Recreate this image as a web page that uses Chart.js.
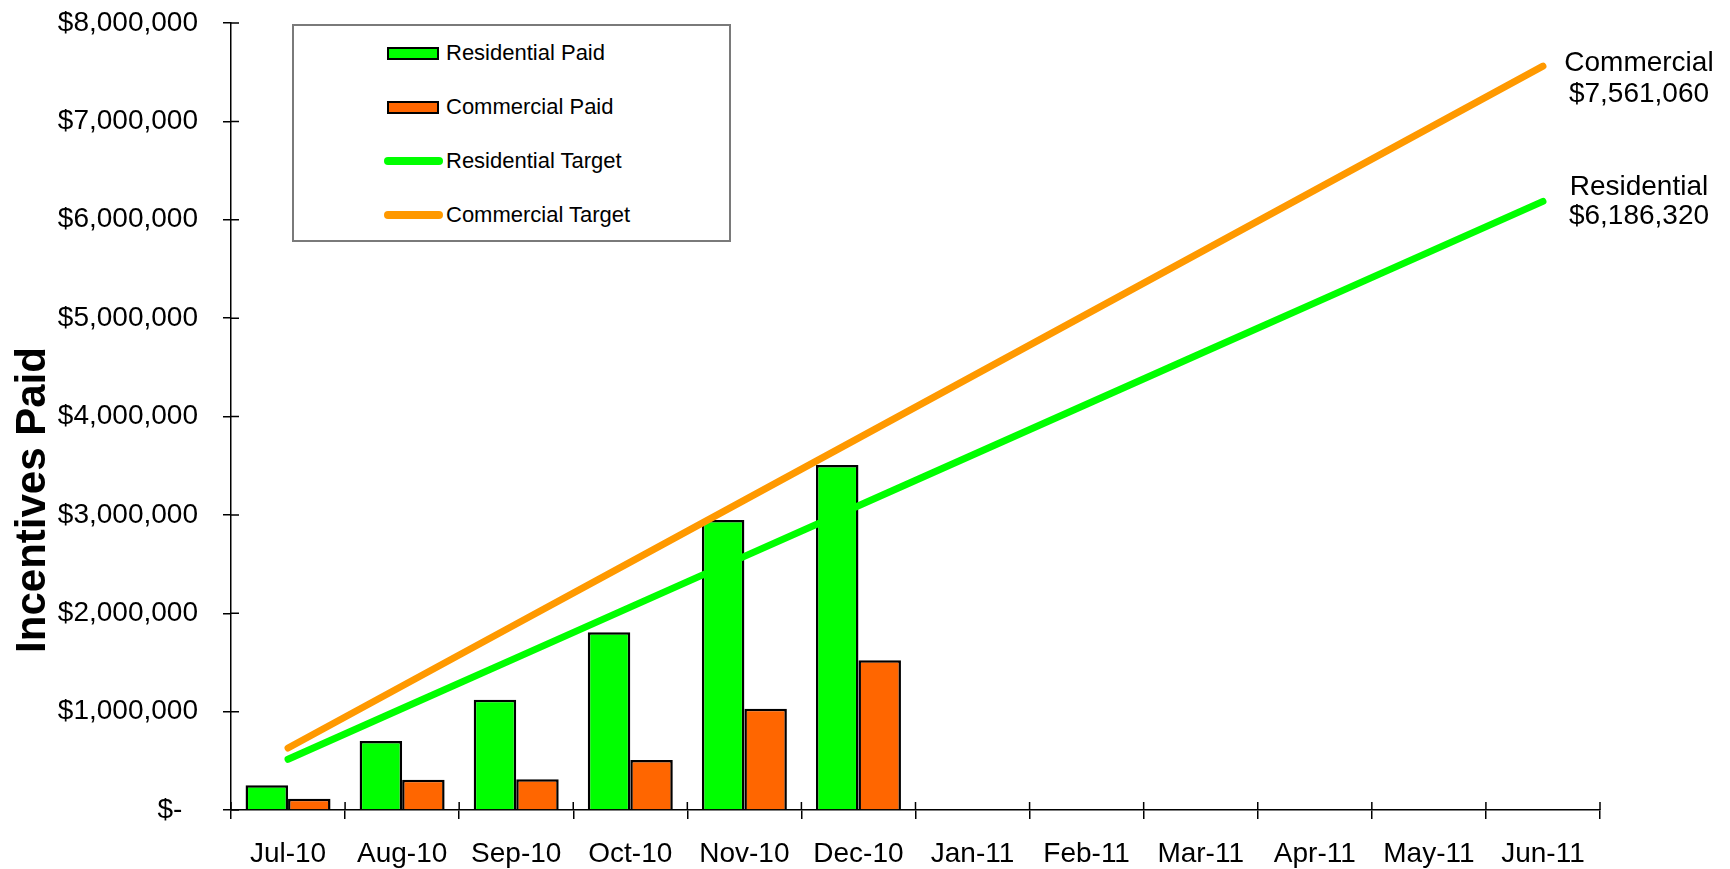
<!DOCTYPE html>
<html>
<head>
<meta charset="utf-8">
<script src="https://cdn.jsdelivr.net/npm/chart.js@4.4.0/dist/chart.umd.min.js"></script>
<style>
  html, body { margin: 0; padding: 0; background: #fff; }
  #wrap { position: relative; width: 1730px; height: 869px; }
  #legend {
    position: absolute; left: 292px; top: 24px; width: 435px; height: 214px;
    border: 2px solid #7a7a7a; background: #fff;
    font: 22px 'Liberation Sans', Arial, sans-serif; color: #000;
  }
  .row { position: absolute; left: 0; width: 100%; height: 30px; }
  .sw { position: absolute; box-sizing: border-box; }
  .row span { position: absolute; left: 152px; line-height: 30px; white-space: nowrap; }
</style>
</head>
<body>
<div id="wrap">
  <canvas id="chart" width="1730" height="869"></canvas>
  <div id="legend"></div>
</div>
<script>
// months of the program year
const months = ['Jul-10', 'Aug-10', 'Sep-10', 'Oct-10', 'Nov-10', 'Dec-10',
                'Jan-11', 'Feb-11', 'Mar-11', 'Apr-11', 'May-11', 'Jun-11'];

// paid to date
const residentialPaid = [251000, 701000, 1121000, 1806000, 2947000, 3506000, null, null, null, null, null, null];
const commercialPaid  = [115000, 308000, 312000, 508000, 1030000, 1521000, null, null, null, null, null, null];

// cumulative targets
const residentialTarget = [515527, 1031053, 1546580, 2062107, 2577633, 3093160,
                           3608687, 4124213, 4639740, 5155267, 5670793, 6186320];
const commercialTarget  = [630088, 1260177, 1890265, 2520353, 3150442, 3780530,
                           4410618, 5040707, 5670795, 6300883, 6930972, 7561060];

const yTickLabels = ['$-  ', '$1,000,000', '$2,000,000', '$3,000,000', '$4,000,000',
                     '$5,000,000', '$6,000,000', '$7,000,000', '$8,000,000'];
const endLabelNames = ['Residential', 'Commercial'];

Chart.defaults.font.family = "'Liberation Sans', Arial, sans-serif";
Chart.defaults.color = '#000';

// tick marks crossing into the plot area, like the original axes
const innerTicks = {
  id: 'innerTicks',
  afterDraw(chart) {
    const { ctx, chartArea, scales: { x, y } } = chart;
    ctx.save();
    ctx.strokeStyle = '#000';
    ctx.lineWidth = 1.5;
    ctx.beginPath();
    y.ticks.forEach((t, i) => {
      const py = y.getPixelForTick(i);
      ctx.moveTo(chartArea.left, py);
      ctx.lineTo(chartArea.left + 8, py);
    });
    for (let i = 0; i <= months.length; i++) {
      const px = x.getPixelForValue(i - 0.5);
      ctx.moveTo(px, chartArea.bottom);
      ctx.lineTo(px, chartArea.bottom - 8);
    }
    ctx.stroke();
    ctx.restore();
  }
};

// y axis title sits lower than centre in the original
const yTitle = {
  id: 'yTitle',
  afterDraw(chart) {
    const ctx = chart.ctx;
    ctx.save();
    ctx.translate(45, 500);
    ctx.rotate(-Math.PI / 2);
    ctx.font = "bold 42px 'Liberation Sans', Arial, sans-serif";
    ctx.fillStyle = '#000';
    ctx.textAlign = 'center';
    ctx.textBaseline = 'alphabetic';
    ctx.fillText('Incentives Paid', 0, 0);
    ctx.restore();
  }
};

// labels at the end of each target line
const endLabels = {
  id: 'endLabels',
  afterDatasetsDraw(chart, args, opts) {
    const ctx = chart.ctx;
    ctx.save();
    ctx.font = "28px 'Liberation Sans', Arial, sans-serif";
    ctx.fillStyle = '#000';
    ctx.textAlign = 'center';
    ctx.textBaseline = 'middle';
    opts.items.forEach((it, k) => {
      const ds = chart.data.datasets[it.dataset];
      const pts = chart.getDatasetMeta(it.dataset).data;
      const p = pts[pts.length - 1];
      const v = ds.data[ds.data.length - 1];
      ctx.fillText(endLabelNames[k], p.x + 96, p.y + it.dy1);
      ctx.fillText('$' + v.toLocaleString('en-US'), p.x + 96, p.y + it.dy2);
    });
    ctx.restore();
  }
};

const chart = new Chart(document.getElementById('chart'), {
  type: 'bar',
  data: {
    labels: months,
    datasets: [
      {
        label: 'Residential Paid',
        data: residentialPaid,
        backgroundColor: '#00ff00',
        borderColor: '#000',
        borderWidth: 2.5,
        categoryPercentage: 0.745,
        barPercentage: 1.0,
        order: 2
      },
      {
        label: 'Commercial Paid',
        data: commercialPaid,
        backgroundColor: '#ff6600',
        borderColor: '#000',
        borderWidth: 2.5,
        categoryPercentage: 0.745,
        barPercentage: 1.0,
        order: 2
      },
      {
        type: 'line',
        label: 'Residential Target',
        data: residentialTarget,
        borderColor: '#00ff00',
        backgroundColor: '#00ff00',
        borderWidth: 7,
        borderCapStyle: 'round',
        pointRadius: 0,
        tension: 0,
        order: 1
      },
      {
        type: 'line',
        label: 'Commercial Target',
        data: commercialTarget,
        borderColor: '#ff9900',
        backgroundColor: '#ff9900',
        borderWidth: 7,
        borderCapStyle: 'round',
        pointRadius: 0,
        tension: 0,
        order: 0
      }
    ]
  },
  options: {
    responsive: false,
    animation: false,
    layout: { padding: { top: 23, right: 130, left: 0, bottom: 0 } },
    plugins: {
      legend: { display: false },
      tooltip: { enabled: false },
      endLabels: {
        items: [
          { dataset: 2, dy1: -14, dy2: 15 },
          { dataset: 3, dy1: -3, dy2: 28 }
        ]
      }
    },
    scales: {
      x: {
        grid: { display: true, drawOnChartArea: false, drawTicks: true, tickLength: 9, color: '#000', lineWidth: 1.5, offset: true },
        border: { display: true, color: '#000', width: 1.5 },
        ticks: { font: { size: 28 }, padding: 18, maxRotation: 0, autoSkip: false },
        afterFit(scale) { scale.height = 59; }
      },
      y: {
        min: 0,
        max: 8000000,
        grid: { display: true, drawOnChartArea: false, drawTicks: true, tickLength: 8, color: '#000', lineWidth: 1.5 },
        border: { display: true, color: '#000', width: 1.5 },
        ticks: {
          stepSize: 1000000,
          font: { size: 28 },
          padding: 25,
          callback: (v, i) => yTickLabels[i]
        },
        afterFit(scale) {
          scale.width = 231;
          scale.paddingTop = 0;
          scale.paddingBottom = 0;
        }
      }
    }
  },
  plugins: [innerTicks, yTitle, endLabels]
});

// legend box drawn in html from the chart's datasets
const legend = document.getElementById('legend');
const rowTops = [12, 66, 120, 174];
chart.data.datasets.forEach((ds, i) => {
  const row = document.createElement('div');
  row.className = 'row';
  row.style.top = rowTops[i] + 'px';
  const sw = document.createElement('div');
  sw.className = 'sw';
  if (ds.type === 'line') {
    sw.style.cssText = 'left:90px;top:11px;width:59px;height:8px;border-radius:4px;background:' + ds.borderColor;
  } else {
    sw.style.cssText = 'left:93px;top:9px;width:52px;height:13px;border:2px solid #000;background:' + ds.backgroundColor;
  }
  const txt = document.createElement('span');
  txt.textContent = ds.label;
  row.appendChild(sw);
  row.appendChild(txt);
  legend.appendChild(row);
});
</script>
</body>
</html>
